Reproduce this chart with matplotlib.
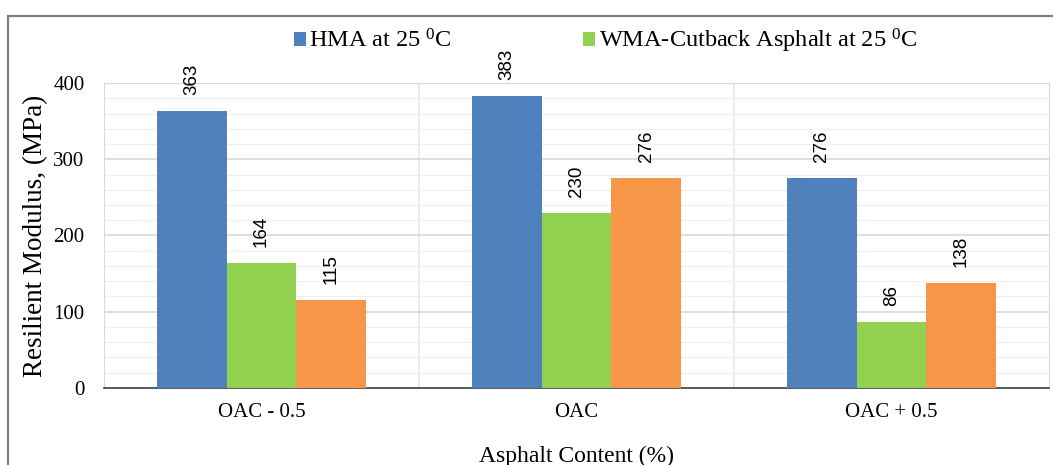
import matplotlib
matplotlib.use("Agg")
import matplotlib.pyplot as plt
from matplotlib.patches import Rectangle
from matplotlib.ticker import MultipleLocator
import numpy as np

categories = ["OAC - 0.5", "OAC", "OAC + 0.5"]
hma = [363, 383, 276]
wma = [164, 230, 86]
third = [115, 276, 138]

series = [
    (hma, "#4f81bd", "HMA at 25 $\\mathregular{^0}$C"),
    (wma, "#92d050", "WMA-Cutback Asphalt at 25 $\\mathregular{^0}$C"),
    (third, "#f79646", None),
]

serif = "Liberation Serif"
sans = "Liberation Sans"

fig = plt.figure(figsize=(10.53, 4.65), dpi=100)
ax = fig.add_axes([0.0988, 0.1656, 0.8974, 0.6559])

x = np.arange(len(categories))
w = 0.222
handles = []
for i, (vals, color, label) in enumerate(series):
    pos = x + (i - 1) * w
    bars = ax.bar(pos, vals, width=w, color=color, zorder=3)
    if label:
        handles.append((bars, label))
    for px, v in zip(pos, vals):
        ax.text(px, v + 21, str(v), rotation=90, ha="center", va="bottom",
                fontsize=13.5, family=sans, zorder=4)

ax.set_xlim(-0.5, 2.5)
ax.set_ylim(0, 400)
ax.yaxis.set_major_locator(MultipleLocator(100))
ax.yaxis.set_minor_locator(MultipleLocator(20))
ax.grid(axis="y", which="major", color="#d9d9d9", lw=1.2, zorder=0)
ax.grid(axis="y", which="minor", color="#f0f0f0", lw=1.0, zorder=0)
for b in [0.5, 1.5]:
    ax.axvline(b, color="#e6e6e6", lw=1.2, zorder=0)

ax.set_xticks(x)
ax.set_xticklabels(categories, family=serif, fontsize=15)
ax.tick_params(axis="y", which="both", labelsize=15, length=0, pad=14)
ax.tick_params(axis="x", length=0, pad=11)
for t in ax.get_yticklabels():
    t.set_family(serif)

for side in ["top", "right", "left"]:
    ax.spines[side].set_color("#d9d9d9")
ax.spines["bottom"].set_color("#404040")
ax.spines["bottom"].set_linewidth(1.2)

ax.set_ylabel("Resilient Modulus, (MPa)", family=serif, fontsize=19.5, labelpad=4)
ax.set_xlabel("Asphalt Content (%)", family=serif, fontsize=17, labelpad=17)

fig.legend([h for h, _ in handles], [l for _, l in handles], loc="center",
           bbox_to_anchor=(0.575, 0.912), ncol=2, frameon=False,
           prop={"family": serif, "size": 17.5}, handlelength=0.5,
           handleheight=0.5, handletextpad=0.15, columnspacing=5.4)

# outer frame around the chart
fig.patches.append(Rectangle((8 / 1053, -0.2), 1.2, 1.2 - 16 / 465,
                             transform=fig.transFigure, fill=False,
                             edgecolor="#7f7f7f", lw=1.6, clip_on=False))

fig.savefig("out.png", dpi=100)
